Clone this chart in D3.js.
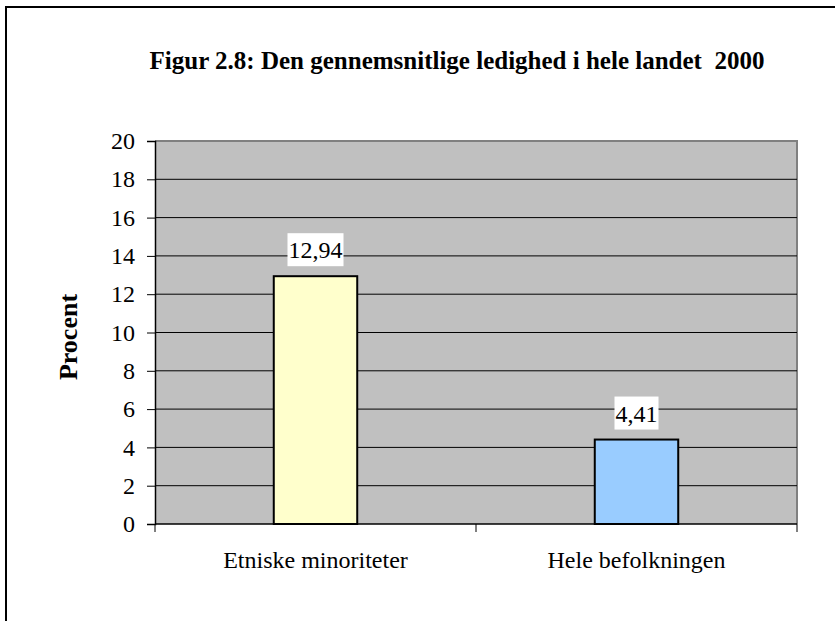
<!DOCTYPE html>
<html><head><meta charset="utf-8">
<script src="https://cdn.jsdelivr.net/npm/d3@7"></script>
<style>body{margin:0;background:#fff}svg{display:block}</style>
</head><body>
<script>
const categories = ["Etniske minoriteter", "Hele befolkningen"];
const values = [12.94, 4.41];
const labels = ["12,94", "4,41"];
const barColors = ["#ffffcc", "#99ccff"];
const yTicks = [0, 2, 4, 6, 8, 10, 12, 14, 16, 18, 20];
const title = "Figur 2.8: Den gennemsnitlige ledighed i hele landet  2000";
const yTitle = "Procent";

const W = 835, H = 621;
const svg = d3.select("body").append("svg").attr("width", W).attr("height", H);
const font = "'Liberation Serif','Times New Roman',serif";

// outer frame
svg.append("rect").attr("x", 6).attr("y", 7).attr("width", 840).attr("height", 640)
  .attr("fill", "#fff").attr("stroke", "#000").attr("stroke-width", 2);

const L = 155, R = 797, T = 141, B = 524;
const x = d3.scaleBand().domain(categories).range([L, R]).paddingInner(0.74).paddingOuter(0.37);
const y = d3.scaleLinear().domain([0, 20]).range([B, T]);

svg.append("rect").attr("x", L).attr("y", T).attr("width", R - L).attr("height", B - T)
  .attr("fill", "#c0c0c0");
svg.append("path").attr("d", `M${L},${T}H${R}V${B}`).attr("fill", "none")
  .attr("stroke", "#808080").attr("stroke-width", 2);

// gridlines
svg.append("g").selectAll("line").data(yTicks.filter(d => d > 0 && d < 20)).join("line")
  .attr("x1", L).attr("x2", R).attr("y1", d => y(d)).attr("y2", d => y(d))
  .attr("stroke", "#000").attr("stroke-width", 1);

// y axis
const ya = svg.append("g").attr("transform", `translate(${L},0)`)
  .call(d3.axisLeft(y).tickValues(yTicks).tickSize(8).tickPadding(12));
ya.select(".domain").attr("stroke", "#000").attr("stroke-width", 1.5);
ya.selectAll("text").attr("font-family", font).attr("font-size", 24).attr("fill", "#000");

// x axis
const xa = svg.append("g").attr("transform", `translate(0,${B})`);
xa.append("line").attr("x1", L).attr("x2", R).attr("stroke", "#000").attr("stroke-width", 1.5);
const bounds = [L, (L + R) / 2, R];
xa.selectAll("line.tk").data(bounds).join("line").attr("class", "tk")
  .attr("x1", d => d).attr("x2", d => d).attr("y1", 0).attr("y2", 8).attr("stroke", "#000");
xa.selectAll("text").data(categories).join("text")
  .attr("x", d => x(d) + x.bandwidth() / 2).attr("y", 44)
  .attr("text-anchor", "middle").attr("font-family", font).attr("font-size", 24).text(d => d);

// bars
svg.append("g").selectAll("rect").data(categories).join("rect")
  .attr("x", d => x(d)).attr("width", x.bandwidth())
  .attr("y", (d, i) => y(values[i])).attr("height", (d, i) => B - y(values[i]))
  .attr("fill", (d, i) => barColors[i]).attr("stroke", "#000").attr("stroke-width", 2);

// data labels
const lg = svg.append("g");
categories.forEach((c, i) => {
  const cx = x(c) + x.bandwidth() / 2, boxBottom = y(values[i]) - 10;
  const t = lg.append("text").attr("x", cx).attr("y", boxBottom - 8).attr("text-anchor", "middle")
    .attr("font-family", font).attr("font-size", 24).text(labels[i]);
  const bb = t.node().getBBox();
  lg.insert("rect", "text").attr("x", bb.x - 1).attr("y", boxBottom - 33).attr("width", bb.width + 2).attr("height", 33)
    .attr("fill", "#fff");
});

// titles
svg.append("text").attr("x", 457).attr("y", 69).attr("text-anchor", "middle")
  .attr("font-family", font).attr("font-size", 25).attr("font-weight", "bold")
  .style("white-space", "pre").text(title);
svg.append("text").attr("transform", "translate(77,337) rotate(-90)").attr("text-anchor", "middle")
  .attr("font-family", font).attr("font-size", 26).attr("font-weight", "bold").text(yTitle);
</script>
</body></html>
